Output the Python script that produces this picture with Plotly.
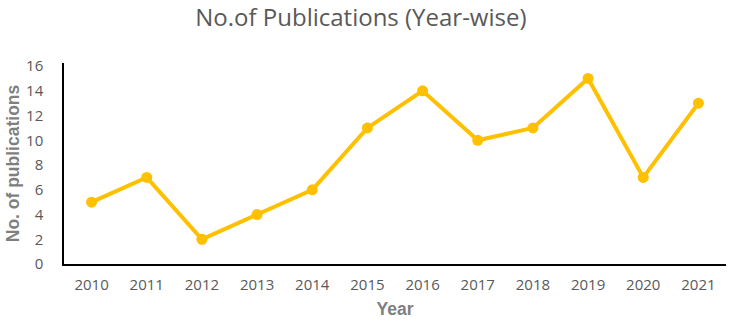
import plotly.graph_objects as go

years = ["2010", "2011", "2012", "2013", "2014", "2015", "2016", "2017", "2018", "2019", "2020", "2021"]
publications = [5, 7, 2, 4, 6, 11, 14, 10, 11, 15, 7, 13]
y_ticks = [0, 2, 4, 6, 8, 10, 12, 14, 16]

fig = go.Figure(go.Scatter(
    x=years, y=publications, mode="lines+markers",
    line=dict(color="#FFC000", width=4),
    marker=dict(color="#FFC000", size=11),
    hoverinfo="skip",
))

fig.update_layout(
    width=732, height=322,
    margin=dict(l=64, r=6, t=63, b=58, autoexpand=False),
    paper_bgcolor="white", plot_bgcolor="white",
    font=dict(family="Open Sans, Liberation Sans, sans-serif", color="#595959"),
    title=dict(text="No.of Publications (Year-wise)", x=0.493, xanchor="center", y=0.945, yanchor="middle",
               font=dict(size=24, color="#595959")),
    showlegend=False,
)
fig.update_xaxes(
    type="category", range=[-0.5, 11.5], showgrid=False, showline=True, linecolor="black", linewidth=1.5,
    tickfont=dict(size=15, color="#595959"), ticks="", ticklabelstandoff=6, automargin=False,
    title=dict(text="<b>Year</b>", font=dict(size=17.5, color="#7f7f7f", family="Liberation Sans Narrow, Liberation Sans, sans-serif"), standoff=10),
)
fig.update_yaxes(
    range=[0, 16.25], tickvals=y_ticks, showgrid=False, showline=True, linecolor="black", linewidth=1.5,
    tickfont=dict(size=15, color="#595959"), ticks="", ticklabelstandoff=16, automargin=False,
    zeroline=False,
    title=dict(text="<b>No. of publications</b>", font=dict(size=17.5, color="#7f7f7f", family="Liberation Sans Narrow, Liberation Sans, sans-serif"), standoff=2),
)

fig.write_html("out.html", config={"displayModeBar": False},
               post_script="document.body.style.margin='0';")
